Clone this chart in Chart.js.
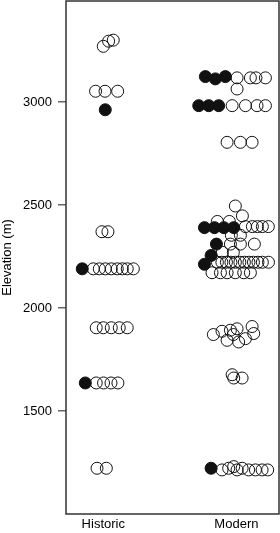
<!DOCTYPE html>
<html>
<head>
<meta charset="utf-8">
<script src="https://cdn.jsdelivr.net/npm/chart.js@4"></script>
<style>
  html, body { margin: 0; padding: 0; background: #fff; }
  #wrap { width: 280px; height: 533px; }
</style>
</head>
<body>
<div id="wrap"><canvas id="elevChart"></canvas></div>
<script>
// categories and y ticks
const categories = ['Historic', 'Modern'];
const yTicks = [1500, 2000, 2500, 3000];

// Historic - open circles (elevation, horizontal jitter)
const histOpenElev = [3270, 3295, 3300, 3052, 3052, 3052, 2370, 2370,
  2190, 2190, 2190, 2190, 2190, 2190, 2190, 2190,
  1904, 1904, 1904, 1904, 1904, 1636, 1636, 1636, 1636, 1222, 1222];
const histOpenJit = [0, 0.04, 0.075, -0.058, 0.013, 0.108, -0.01, 0.035,
  -0.075, -0.03, 0.015, 0.06, 0.105, 0.143, 0.18, 0.226,
  -0.053, 0, 0.06, 0.12, 0.18, -0.053, 0.002, 0.058, 0.11, -0.047, 0.023];

// Historic - filled
const histFillElev = [2962, 2190, 1636];
const histFillJit = [0.015, -0.158, -0.135];

// Modern - filled
const modFillElev = [3123, 3112, 3123, 2982, 2982, 2982, 2390, 2390, 2390, 2390, 2310, 2255, 2212, 1222];
const modFillJit = [-0.233, -0.158, -0.083, -0.283, -0.208, -0.133, -0.24, -0.165, -0.094, -0.02, -0.15, -0.19, -0.24, -0.19];

// Modern - open circles
const modOpenElev = [3117, 3117, 3117, 3117, 3063,
  2982, 2982, 2982, 2982, 2804, 2804, 2804,
  2495, 2447, 2420, 2420, 2395, 2395, 2395, 2395, 2395,
  2353, 2353, 2310, 2310, 2310, 2270, 2270,
  2222, 2222, 2222, 2222, 2222, 2222, 2222, 2222, 2222, 2222, 2222, 2222,
  2171, 2171, 2171, 2171, 2171, 2171,
  1871, 1887, 1892, 1899, 1843, 1835, 1851, 1910, 1876, 1871,
  1676, 1660, 1660,
  1214, 1222, 1230, 1214, 1222, 1214, 1214, 1214, 1214];
const modOpenJit = [0.005, 0.105, 0.147, 0.218, 0.005,
  -0.032, 0.068, 0.155, 0.218, -0.07, 0.03, 0.118,
  -0.008, 0.045, -0.143, -0.053, 0.068, 0.12, 0.158, 0.195, 0.24,
  -0.038, 0.03, -0.045, 0.03, 0.135, -0.105, -0.023,
  -0.143, -0.109, -0.075, -0.041, -0.008, 0.026, 0.06, 0.094, 0.128, 0.162, 0.195, 0.241,
  -0.183, -0.12, -0.07, -0.008, 0.055, 0.105,
  -0.173, -0.108, -0.045, 0.005, -0.07, 0.017, 0.068, 0.118, 0.13, -0.023,
  -0.032, -0.02, 0.043,
  -0.108, -0.058, -0.02, 0.005, 0.043, 0.092, 0.143, 0.193, 0.235];

function toPoints(cat, elev, jit) {
  return elev.map((e, i) => ({ x: cat + jit[i], y: e }));
}

// draws the box round the plot area
const boxPlugin = {
  id: 'box',
  afterDraw(chart) {
    const a = chart.chartArea;
    const c = chart.ctx;
    c.save();
    c.strokeStyle = '#333';
    c.lineWidth = 1.5;
    c.strokeRect(a.left, a.top, a.right - a.left, a.bottom - a.top);
    c.restore();
  }
};

const FONT = { family: '"Liberation Sans", Arial, sans-serif', size: 13 };

new Chart(document.getElementById('elevChart'), {
  type: 'scatter',
  data: {
    datasets: [
      {
        label: 'filled',
        data: toPoints(1, histFillElev, histFillJit).concat(toPoints(2, modFillElev, modFillJit)),
        pointRadius: 6,
        pointBackgroundColor: '#111',
        pointBorderColor: '#111',
        pointBorderWidth: 1,
      },
      {
        label: 'open',
        data: toPoints(1, histOpenElev, histOpenJit).concat(toPoints(2, modOpenElev, modOpenJit)),
        pointRadius: 6,
        pointBackgroundColor: 'rgba(0,0,0,0)',
        pointBorderColor: '#111',
        pointBorderWidth: 1,
      },
    ],
  },
  options: {
    responsive: true,
    maintainAspectRatio: false,
    animation: false,
    layout: { autoPadding: false, padding: { top: 1, right: 1, left: 0, bottom: 0 } },
    plugins: { legend: { display: false }, tooltip: { enabled: false } },
    scales: {
      x: {
        type: 'linear',
        min: 0.72,
        max: 2.32,
        afterBuildTicks: (scale) => { scale.ticks = categories.map((c, i) => ({ value: i + 1 })); },
        afterFit: (scale) => {
          scale.height = 19;
          scale.paddingLeft = 0;
          scale.paddingRight = 0;
        },
        ticks: {
          color: '#000',
          font: FONT,
          padding: 3,
          maxRotation: 0,
          autoSkip: false,
          callback: (v) => categories[v - 1],
        },
        grid: { display: false, drawTicks: false },
        border: { display: false },
      },
      y: {
        type: 'linear',
        min: 1000,
        max: 3490,
        afterBuildTicks: (scale) => { scale.ticks = yTicks.map(v => ({ value: v })); },
        afterFit: (scale) => {
          scale.width = 66;
          scale.paddingTop = 0;
          scale.paddingBottom = 0;
        },
        ticks: { color: '#000', font: FONT, padding: 6, callback: (v) => String(v) },
        grid: { drawOnChartArea: false, tickLength: 8, color: '#666', lineWidth: 1.5 },
        border: { display: false },
        title: { display: true, text: 'Elevation (m)', color: '#000', font: FONT, padding: 0 },
      },
    },
  },
  plugins: [boxPlugin],
});
</script>
</body>
</html>
